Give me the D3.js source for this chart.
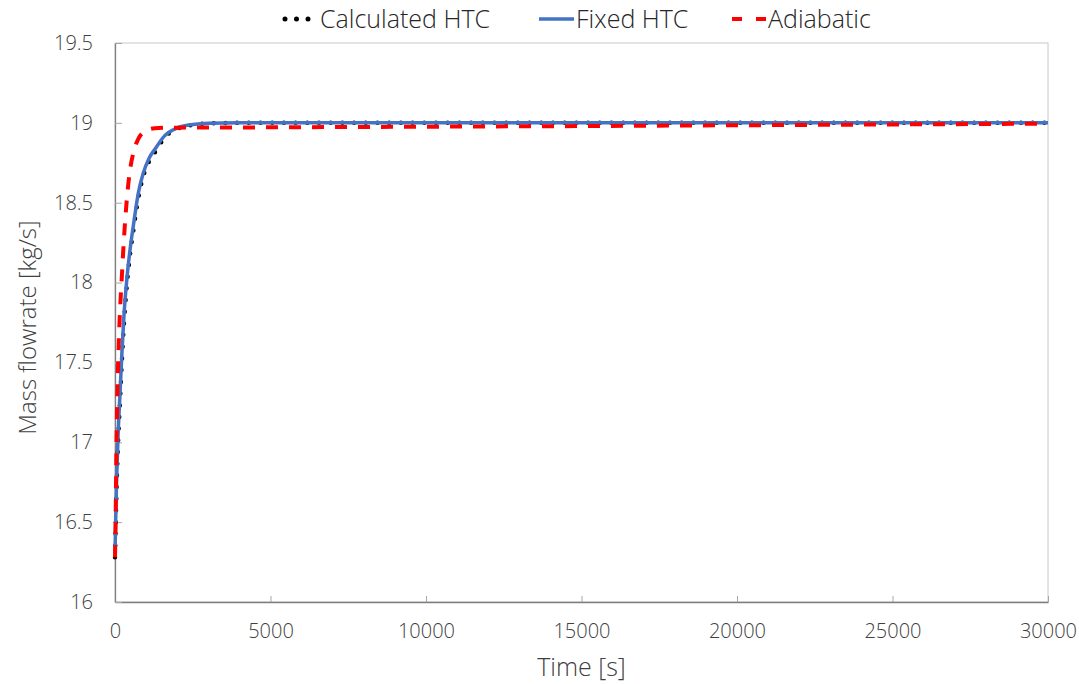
<!DOCTYPE html>
<html>
<head>
<meta charset="utf-8">
<script src="https://cdn.jsdelivr.net/npm/d3@7"></script>
<style>
  body { margin: 0; background: #fff; }
  svg text { font-family: "Open Sans", "Noto Sans", sans-serif; font-weight: 300; }
</style>
</head>
<body>
<div id="chart"></div>
<script>
// Values
var calcTime  = [0, 20, 50, 100, 160, 220, 290, 380, 480, 600, 750, 900, 1100, 1300, 1600, 2000, 2500, 3000, 4000, 6000, 10000, 15000, 20000, 25000, 30000];
var calcValue = [16.28, 16.45, 16.7, 17.0, 17.25, 17.5, 17.75, 17.98, 18.17, 18.34, 18.53, 18.66, 18.76, 18.82, 18.91, 18.962, 18.988, 18.997, 19.0, 19.0, 19.0, 19.0, 19.0, 19.0, 19.0];

var fixedTime  = [0, 20, 50, 100, 160, 220, 290, 380, 480, 600, 750, 900, 1100, 1300, 1600, 2000, 2500, 3000, 4000, 6000, 10000, 15000, 20000, 25000, 30000];
var fixedValue = [16.3, 16.5, 16.75, 17.05, 17.3, 17.55, 17.8, 18.02, 18.2, 18.37, 18.56, 18.68, 18.78, 18.84, 18.92, 18.968, 18.99, 18.998, 19.0, 19.0, 19.0, 19.0, 19.0, 19.0, 19.0];

var adiaTime  = [0, 10, 20, 35, 55, 85, 120, 160, 215, 280, 380, 480, 600, 750, 900, 1100, 1400, 2000, 5000, 10000, 15000, 20000, 25000, 30000];
var adiaValue = [16.28, 16.4, 16.5, 16.78, 17.07, 17.38, 17.62, 17.82, 18.02, 18.25, 18.52, 18.7, 18.82, 18.9, 18.94, 18.96, 18.968, 18.97, 18.972, 18.976, 18.98, 18.985, 18.99, 18.995];

var xTicks = [0, 5000, 10000, 15000, 20000, 25000, 30000];
var yTicks = [16, 16.5, 17, 17.5, 18, 18.5, 19, 19.5];
var seriesNames = ['Calculated HTC', 'Fixed HTC', 'Adiabatic'];

var width = 1079, height = 684;
var margin = {top: 43, right: 31, bottom: 82, left: 115};
var w = width - margin.left - margin.right;
var h = height - margin.top - margin.bottom;

var svg = d3.select('#chart').append('svg')
  .attr('width', width)
  .attr('height', height);

var g = svg.append('g')
  .attr('transform', 'translate(' + margin.left + ',' + margin.top + ')');

var x = d3.scaleLinear().domain([0, 30000]).range([0, w]);
var y = d3.scaleLinear().domain([16, 19.5]).range([h, 0]);

// Plot box (top / right)
g.append('rect')
  .attr('width', w).attr('height', h)
  .attr('fill', 'none')
  .attr('stroke', '#c8c8c8')
  .attr('stroke-width', 1);

// Axes
var xAxis = d3.axisBottom(x).tickValues(xTicks).tickSizeInner(-6).tickSizeOuter(0)
  .tickFormat(d3.format('d')).tickPadding(22);
var yAxis = d3.axisLeft(y).tickValues(yTicks).tickSizeInner(-7).tickSizeOuter(0)
  .tickFormat(d3.format('')).tickPadding(22);

var gx = g.append('g').attr('transform', 'translate(0,' + h + ')').call(xAxis);
var gy = g.append('g').call(yAxis);

[gx, gy].forEach(function(a) {
  a.select('.domain').attr('stroke', '#7f7f7f').attr('stroke-width', 1.3);
  a.selectAll('.tick line').attr('stroke', '#a6a6a6');
  a.selectAll('.tick text')
    .attr('fill', '#404040')
    .style('font-size', '20px');
});

// Axis titles
svg.append('text')
  .attr('x', margin.left + w / 2)
  .attr('y', 676)
  .attr('text-anchor', 'middle')
  .attr('fill', '#404040')
  .style('font-size', '25px')
  .text('Time [s]');

svg.append('text')
  .attr('transform', 'translate(36,' + (margin.top + h / 2 + 5) + ') rotate(-90)')
  .attr('text-anchor', 'middle')
  .attr('fill', '#404040')
  .style('font-size', '24px')
  .text('Mass flowrate [kg/s]');

// Lines
var line = d3.line()
  .x(function(d) { return x(d[0]); })
  .y(function(d) { return y(d[1]); })
  .curve(d3.curveMonotoneX);

var plot = g.append('g');

plot.append('path')
  .attr('d', line(d3.zip(calcTime, calcValue)))
  .attr('fill', 'none')
  .attr('stroke', '#000')
  .attr('stroke-width', 4.5)
  .attr('stroke-linecap', 'round')
  .attr('stroke-dasharray', '0,11.7');

plot.append('path')
  .attr('d', line(d3.zip(fixedTime, fixedValue)))
  .attr('fill', 'none')
  .attr('stroke', '#4472c4')
  .attr('stroke-width', 3.5);

plot.append('path')
  .attr('d', line(d3.zip(adiaTime, adiaValue)))
  .attr('fill', 'none')
  .attr('stroke', '#ff0000')
  .attr('stroke-width', 4)
  .attr('stroke-dasharray', '12,11');

// Legend
var legend = svg.append('g').attr('transform', 'translate(0,19)');
var legendX = [282, 539, 732];
var symbolW = [31, 35, 34];

legendX.forEach(function(lx, i) {
  var item = legend.append('g').attr('transform', 'translate(' + lx + ',0)');
  var s = item.append('line')
    .attr('x1', 0).attr('x2', symbolW[i])
    .attr('y1', 0).attr('y2', 0)
    .attr('fill', 'none');
  if (i === 0) {
    s.attr('x1', 3).attr('x2', 29).attr('stroke', '#000').attr('stroke-width', 5)
      .attr('stroke-linecap', 'round').attr('stroke-dasharray', '0,11.5');
  } else if (i === 1) {
    s.attr('stroke', '#4472c4').attr('stroke-width', 3.5);
  } else {
    s.attr('stroke', '#ff0000').attr('stroke-width', 4).attr('stroke-dasharray', '10,14');
  }
  item.append('text')
    .attr('x', i === 0 ? 38 : symbolW[i] + 2)
    .attr('y', 0)
    .attr('dy', '0.35em')
    .attr('fill', '#262626')
    .style('font-size', '25px')
    .text(seriesNames[i]);
});
</script>
</body>
</html>
